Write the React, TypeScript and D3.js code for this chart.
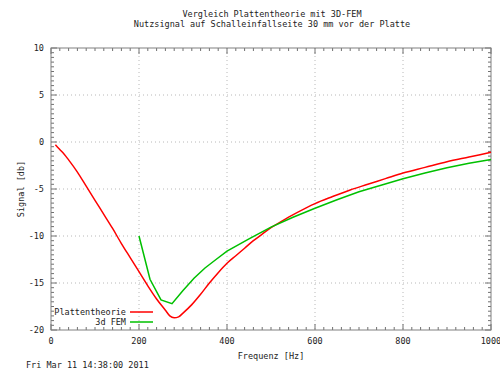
import { useEffect, useRef } from 'react';
import * as d3 from 'd3';

const titleLines = ['Vergleich Plattentheorie mit 3D-FEM', 'Nutzsignal auf Schalleinfallseite 30 mm vor der Platte'];
const xLabel = 'Frequenz [Hz]';
const yLabel = 'Signal [db]';
const stamp = 'Fri Mar 11 14:38:00 2011';

const xTicks = [0, 200, 400, 600, 800, 1000];
const yTicks = [10, 5, 0, -5, -10, -15, -20];

// Plattentheorie
const plateFreq = [10, 20, 30, 40, 60, 80, 100, 120, 140, 160, 180, 200, 220, 240, 260, 270, 280, 290, 300, 320, 340, 360, 380, 400, 420, 440, 460, 480, 500, 520, 540, 580, 600, 640, 680, 720, 760, 800, 850, 900, 950, 1000];
const plateDb = [-0.3, -0.8, -1.3, -1.9, -3.2, -4.7, -6.2, -7.7, -9.2, -10.8, -12.3, -13.8, -15.3, -16.7, -17.9, -18.5, -18.7, -18.6, -18.2, -17.3, -16.2, -15.0, -13.9, -12.9, -12.1, -11.3, -10.5, -9.8, -9.1, -8.55, -8.0, -7.0, -6.55, -5.8, -5.1, -4.5, -3.9, -3.3, -2.7, -2.1, -1.6, -1.1];

// 3d FEM
const femFreq = [200, 225, 250, 275, 300, 325, 350, 375, 400, 450, 500, 550, 600, 650, 700, 750, 800, 850, 900, 950, 1000];
const femDb = [-10.0, -14.6, -16.8, -17.2, -15.8, -14.5, -13.4, -12.5, -11.6, -10.3, -9.05, -8.0, -7.05, -6.15, -5.3, -4.6, -3.9, -3.3, -2.75, -2.25, -1.85];

const seriesNames = ['Plattentheorie', '3d FEM'];
const seriesColors = ['#ff0000', '#00c000'];

export default function App() {
    const svgRef = useRef<SVGSVGElement>(null);

    useEffect(() => {
        if (!svgRef.current) return;
        const width = 500;
        const height = 369;
        const left = 51, right = 491, top = 48, bottom = 330;
        const font = '"DejaVu Sans Mono", monospace';

        const svg = d3.select(svgRef.current);
        svg.selectAll('*').remove();
        svg.attr('width', width).attr('height', height);

        svg.append('rect').attr('width', width).attr('height', height).attr('fill', '#fff');

        const x = d3.scaleLinear().domain([0, 1000]).range([left, right]);
        const y = d3.scaleLinear().domain([-20, 10]).range([bottom, top]);

        // grid
        const grid = svg.append('g').attr('stroke', '#b8b8b8').attr('stroke-dasharray', '1,3').attr('stroke-width', 1);
        xTicks.slice(1, -1).forEach((t) => {
            grid.append('line').attr('x1', x(t)).attr('x2', x(t)).attr('y1', top).attr('y2', bottom);
        });
        yTicks.slice(1, -1).forEach((t) => {
            grid.append('line').attr('x1', left).attr('x2', right).attr('y1', y(t)).attr('y2', y(t));
        });

        // ticks (inward, mirrored)
        const ticks = svg.append('g').attr('stroke', '#707070').attr('stroke-width', 1);
        d3.range(0, 1001, 20).forEach((t) => {
            const len = t % 200 === 0 ? 6 : 3;
            ticks.append('line').attr('x1', x(t)).attr('x2', x(t)).attr('y1', bottom).attr('y2', bottom - len);
            ticks.append('line').attr('x1', x(t)).attr('x2', x(t)).attr('y1', top).attr('y2', top + len);
        });
        d3.range(-20, 10.01, 0.5).forEach((t) => {
            const len = Math.abs(t % 5) < 1e-6 ? 6 : 3;
            ticks.append('line').attr('x1', left).attr('x2', left + len).attr('y1', y(t)).attr('y2', y(t));
            ticks.append('line').attr('x1', right).attr('x2', right - len).attr('y1', y(t)).attr('y2', y(t));
        });

        // border
        svg.append('rect')
            .attr('x', left).attr('y', top)
            .attr('width', right - left).attr('height', bottom - top)
            .attr('fill', 'none').attr('stroke', '#808080').attr('stroke-width', 1);

        // tick labels
        const labels = svg.append('g').attr('font-family', font).attr('font-size', '8.5px').attr('fill', '#222');
        xTicks.forEach((t) => {
            labels.append('text').attr('x', x(t)).attr('y', 344).attr('text-anchor', 'middle').text(t);
        });
        yTicks.forEach((t) => {
            labels.append('text').attr('x', 44).attr('y', y(t) + 3).attr('text-anchor', 'end').text(t);
        });

        // titles
        titleLines.forEach((line, i) => {
            labels.append('text').attr('x', 272).attr('y', 17 + i * 10).attr('text-anchor', 'middle').text(line);
        });
        labels.append('text').attr('x', 271).attr('y', 359).attr('text-anchor', 'middle').text(xLabel);
        labels.append('text')
            .attr('transform', `translate(24, ${(top + bottom) / 2}) rotate(-90)`)
            .attr('text-anchor', 'middle').text(yLabel);
        labels.append('text').attr('x', 26).attr('y', 368).text(stamp);

        // curves
        const plateLine = d3.line<number>()
            .x((d, i) => x(plateFreq[i]))
            .y((d) => y(d))
            .curve(d3.curveMonotoneX);
        const femLine = d3.line<number>()
            .x((d, i) => x(femFreq[i]))
            .y((d) => y(d));

        svg.append('path').datum(plateDb).attr('d', plateLine)
            .attr('fill', 'none').attr('stroke', seriesColors[0]).attr('stroke-width', 1.5);
        svg.append('path').datum(femDb).attr('d', femLine)
            .attr('fill', 'none').attr('stroke', seriesColors[1]).attr('stroke-width', 1.5);

        // legend
        seriesNames.forEach((name, i) => {
            const ly = 312 + i * 10;
            labels.append('text').attr('x', 126).attr('y', ly + 3).attr('text-anchor', 'end').text(name);
            svg.append('line').attr('x1', 130).attr('x2', 153).attr('y1', ly).attr('y2', ly)
                .attr('stroke', seriesColors[i]).attr('stroke-width', 1.5);
        });
    }, []);

    return (
        <div>
            <svg ref={svgRef} style={{ position: 'absolute', left: 0, top: 0 }}></svg>
        </div>
    );
}
